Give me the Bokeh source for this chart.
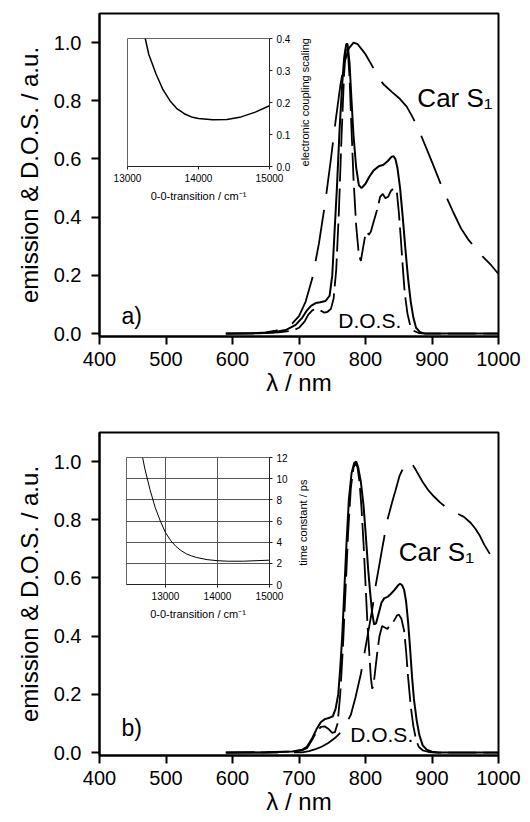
import math
from bokeh.plotting import figure
from bokeh.layouts import column
from bokeh.models import Range1d, FixedTicker, PrintfTickFormatter, Label
from bokeh.embed import file_html
from bokeh.resources import INLINE

FONT = "Liberation Sans"

# ---------------- data: panel a ----------------
wl_a_em = [590, 640, 660, 680, 695, 705, 712, 718, 725, 732, 740, 746, 750, 753, 757, 761, 765, 768, 771, 773,
           776, 779, 782, 786, 790, 794, 800, 806, 812, 820, 827, 834, 839, 842, 845, 848, 852, 856, 860, 864,
           868, 872, 876, 882, 890, 1000]
em_a = [0, 0.001, 0.004, 0.012, 0.03, 0.055, 0.08, 0.095, 0.105, 0.108, 0.112, 0.13, 0.2, 0.33, 0.5, 0.7, 0.86, 0.95, 0.995, 0.995,
        0.93, 0.8, 0.68, 0.57, 0.51, 0.50, 0.515, 0.54, 0.56, 0.575, 0.58, 0.594, 0.607, 0.61, 0.60, 0.57, 0.50, 0.4, 0.29, 0.19,
        0.11, 0.055, 0.02, 0.005, 0, 0]

wl_a_dos = [590, 640, 670, 690, 700, 708, 714, 720, 726, 732, 738, 743, 748, 752, 756, 760, 764, 768, 771, 773,
            776, 779, 782, 786, 790, 793, 796, 799, 802, 805, 808, 813, 818, 822, 826, 830, 834, 838, 843, 847,
            850, 853, 856, 859, 863, 867, 872, 880, 890, 1000]
dos_a = [0, 0.001, 0.004, 0.01, 0.02, 0.04, 0.065, 0.08, 0.086, 0.08, 0.072, 0.075, 0.085, 0.12, 0.22, 0.42, 0.68, 0.9, 0.99, 0.99,
         0.88, 0.7, 0.53, 0.37, 0.27, 0.25, 0.29, 0.33, 0.35, 0.34, 0.35, 0.39, 0.43, 0.47, 0.48, 0.465, 0.47, 0.49, 0.50, 0.49,
         0.42, 0.33, 0.23, 0.14, 0.07, 0.03, 0.01, 0.002, 0, 0]

wl_a_car = [590, 630, 650, 665, 680, 690, 700, 710, 720, 730, 740, 748, 755, 762, 768, 775, 782, 788, 795, 800,
            810, 817, 827, 840, 852, 862, 871, 881, 891, 901, 915, 932, 944, 955, 964, 976, 989, 1000]
car_a = [0, 0.001, 0.004, 0.01, 0.02, 0.035, 0.06, 0.11, 0.19, 0.31, 0.46, 0.6, 0.73, 0.85, 0.93, 0.98, 1.0, 0.995, 0.975, 0.96,
         0.92, 0.89, 0.857, 0.83, 0.806, 0.78, 0.743, 0.695, 0.64, 0.584, 0.503, 0.417, 0.36, 0.322, 0.297, 0.265, 0.235, 0.205]

# inset a: electronic coupling scaling vs 0-0 transition
nu_a = [13250, 13300, 13350, 13400, 13500, 13600, 13700, 13800, 13900, 14000, 14200, 14400, 14600, 14800, 15000]
ecs_a = [0.40, 0.35, 0.32, 0.29, 0.24, 0.205, 0.18, 0.165, 0.155, 0.150, 0.146, 0.147, 0.155, 0.170, 0.19]

# ---------------- data: panel b ----------------
wl_b_em = [590, 650, 690, 705, 712, 720, 727, 733, 739, 746, 751, 755, 759, 762, 765, 768, 771, 775, 779, 783,
           786, 789, 793, 797, 800, 804, 807, 810, 813, 816, 820, 824, 828, 833, 838, 844, 849, 852, 855, 858,
           861, 864, 867, 870, 873, 877, 881, 886, 892, 900, 910, 1000]
em_b = [0, 0.001, 0.004, 0.01, 0.02, 0.05, 0.083, 0.105, 0.115, 0.12, 0.125, 0.15, 0.2, 0.29, 0.4, 0.55, 0.7, 0.87, 0.96, 0.995,
        1.0, 0.98, 0.93, 0.85, 0.76, 0.63, 0.55, 0.48, 0.44, 0.445, 0.48, 0.515, 0.53, 0.535, 0.545, 0.56, 0.575, 0.58, 0.575, 0.56,
        0.52, 0.45, 0.36, 0.26, 0.18, 0.11, 0.06, 0.025, 0.01, 0.003, 0, 0]

wl_b_dos = [590, 650, 690, 705, 712, 720, 727, 733, 739, 745, 750, 754, 758, 762, 766, 770, 774, 778, 782, 785,
            788, 791, 794, 797, 800, 803, 806, 808, 810, 812, 815, 818, 821, 825, 829, 833, 837, 842, 847, 850,
            854, 858, 861, 864, 868, 872, 876, 880, 886, 895, 905, 1000]
dos_b = [0, 0.001, 0.004, 0.008, 0.015, 0.045, 0.075, 0.088, 0.09, 0.08, 0.068, 0.07, 0.1, 0.2, 0.36, 0.56, 0.76, 0.91, 0.98, 0.995,
         0.98, 0.93, 0.84, 0.72, 0.58, 0.44, 0.33, 0.26, 0.22, 0.23, 0.29, 0.35, 0.4, 0.435, 0.43, 0.425, 0.44, 0.45, 0.47, 0.475,
         0.46, 0.42, 0.35, 0.26, 0.16, 0.09, 0.045, 0.02, 0.008, 0.002, 0, 0]

wl_b_car = [590, 680, 705, 715, 725, 734, 744, 754, 762, 770, 778, 785, 793, 803, 810, 815, 820, 825, 833, 840,
            845, 851, 857, 863, 868, 876, 886, 895, 903, 912, 920, 935, 948, 958, 965, 972, 979, 989, 1000]
car_b = [0, 0, 0.001, 0.005, 0.012, 0.02, 0.033, 0.05, 0.068, 0.095, 0.13, 0.19, 0.27, 0.40, 0.49, 0.57, 0.635, 0.70, 0.80, 0.86,
         0.9, 0.95, 0.98, 0.995, 1.0, 0.97, 0.93, 0.9, 0.88, 0.86, 0.845, 0.825, 0.81, 0.79, 0.77, 0.745, 0.713, 0.675, 0.645]

# inset b: time constant vs 0-0 transition
nu_b = [12560, 12600, 12700, 12800, 12900, 13000, 13100, 13200, 13300, 13400, 13500, 13600, 13800, 14000, 14200, 14500, 15000]
tau_b = [12, 11.0, 9.0, 7.3, 6.0, 4.9, 4.15, 3.6, 3.2, 2.9, 2.7, 2.55, 2.35, 2.25, 2.2, 2.2, 2.3]

x_ticks = [400, 500, 600, 700, 800, 900, 1000]
y_ticks = [0.0, 0.2, 0.4, 0.6, 0.8, 1.0]
inset_x_ticks = [13000, 14000, 15000]
inset_a_y_ticks = [0.0, 0.1, 0.2, 0.3, 0.4]
inset_b_y_ticks = [0, 2, 4, 6, 8, 10, 12]
inset_b_grid_x = [13000, 14000]
inset_b_grid_y = [2, 4, 6, 8, 10]


def main_fig(height, top, bottom):
    p = figure(width=530, height=height, x_range=Range1d(400, 1000), y_range=Range1d(-0.01, 1.1),
               output_backend="svg", toolbar_location=None,
               min_border_left=99, min_border_right=32, min_border_top=top, min_border_bottom=bottom)
    p.background_fill_color = "white"
    p.border_fill_color = "white"
    p.outline_line_color = "black"
    p.outline_line_width = 2
    p.grid.visible = False
    for ax in (p.xaxis[0], p.yaxis[0]):
        ax.axis_line_width = 2
        ax.major_tick_line_width = 2
        ax.major_tick_out = 8
        ax.major_tick_in = 0
        ax.minor_tick_line_color = None
        ax.major_label_text_font = FONT
        ax.major_label_text_font_size = "20px"
        ax.major_label_text_color = "black"
        ax.axis_label_text_font = FONT
        ax.axis_label_text_font_size = "24px"
        ax.axis_label_text_font_style = "normal"
        ax.axis_label_text_color = "black"
    p.xaxis.ticker = FixedTicker(ticks=x_ticks)
    p.yaxis.ticker = FixedTicker(ticks=y_ticks)
    p.yaxis.formatter = PrintfTickFormatter(format="%.1f")
    p.xaxis.axis_label = "λ / nm"
    p.yaxis.axis_label = "emission & D.O.S. / a.u."
    p.xaxis.major_label_standoff = 7
    p.xaxis.axis_label_standoff = 0
    p.yaxis.major_label_standoff = 10
    p.yaxis.axis_label_standoff = 8
    return p


def inset_fig(xr, yr, frame_w, frame_h, left, top):
    q = figure(width=20 + frame_w + 50, height=8 + frame_h + 45, x_range=xr, y_range=yr,
               y_axis_location="right", output_backend="svg", toolbar_location=None,
               min_border_left=20, min_border_right=50, min_border_top=8, min_border_bottom=45)
    q.background_fill_alpha = 0
    q.border_fill_alpha = 0
    q.outline_line_color = "#666666"
    q.outline_line_width = 1
    q.grid.visible = False
    for ax in (q.xaxis[0], q.yaxis[0]):
        ax.axis_line_width = 1
        ax.axis_line_color = "#222222"
        ax.major_tick_line_color = "#222222"
        ax.major_tick_out = 3
        ax.major_tick_in = 0
        ax.minor_tick_line_color = None
        ax.major_label_text_font = FONT
        ax.major_label_text_font_size = "10px"
        ax.major_label_text_color = "black"
        ax.major_label_standoff = 4
        ax.axis_label_text_font = FONT
        ax.axis_label_text_font_size = "11px"
        ax.axis_label_text_font_style = "normal"
        ax.axis_label_text_color = "black"
        ax.axis_label_standoff = 5
    q.xaxis.ticker = FixedTicker(ticks=inset_x_ticks)
    q.xaxis.axis_label = "0-0-transition / cm⁻¹"
    q.styles = {"position": "absolute", "left": f"{left}px", "top": f"{top}px"}
    return q


def add_labels(p, items):
    for txt, x, y, size, ang in items:
        p.add_layout(Label(x=x, y=y, text=txt, text_font=FONT, text_font_size=size, angle=ang,
                           text_baseline="middle", text_align="center" if ang else "left",
                           text_color="black"))


# ---------------- panel a ----------------
pa = main_fig(410, 13, 74)
pa.line(wl_a_em, em_a, line_color="black", line_width=2)
pa.line(wl_a_dos, dos_a, line_color="black", line_width=1.8, line_dash="28 7")
pa.line(wl_a_car, car_a, line_color="black", line_width=1.8, line_dash="52 16")
add_labels(pa, [("a)", 433, 0.06, "23px", 0), ("D.O.S.", 759, 0.045, "21px", 0),
                ("Car S₁", 878, 0.81, "26px", 0),
                ("electronic coupling scaling", 709, 0.795, "11px", math.pi / 2)])

# ---------------- panel b ----------------
pb = main_fig(411, 22, 66)
pb.line(wl_b_em, em_b, line_color="black", line_width=2)
pb.line(wl_b_dos, dos_b, line_color="black", line_width=1.8, line_dash="28 7")
pb.line(wl_b_car, car_b, line_color="black", line_width=1.8, line_dash="52 16")
add_labels(pb, [("b)", 433, 0.083, "23px", 0), ("D.O.S.", 777, 0.061, "21px", 0),
                ("Car S₁", 850, 0.69, "26px", 0),
                ("time constant / ps", 706, 0.79, "11px", math.pi / 2)])

# ---------------- insets ----------------
ia = inset_fig(Range1d(13000, 15000), Range1d(0, 0.4), 142, 128, 107, 30)
ia.yaxis.ticker = FixedTicker(ticks=inset_a_y_ticks)
ia.yaxis.formatter = PrintfTickFormatter(format="%.1f")
ia.line(nu_a, ecs_a, line_color="black", line_width=1.5)

ib = inset_fig(Range1d(12250, 15000), Range1d(0, 12), 143, 127, 106, 449)
ib.yaxis.ticker = FixedTicker(ticks=inset_b_y_ticks)
ib.xgrid.visible = True
ib.ygrid.visible = True
ib.xgrid.ticker = FixedTicker(ticks=inset_b_grid_x)
ib.ygrid.ticker = FixedTicker(ticks=inset_b_grid_y)
ib.grid.grid_line_color = "#555555"
ib.grid.grid_line_width = 1
ib.line(nu_b, tau_b, line_color="black", line_width=1)

layout = column(pa, pb)
open("out.html", "w").write(file_html([layout, ia, ib], INLINE))
